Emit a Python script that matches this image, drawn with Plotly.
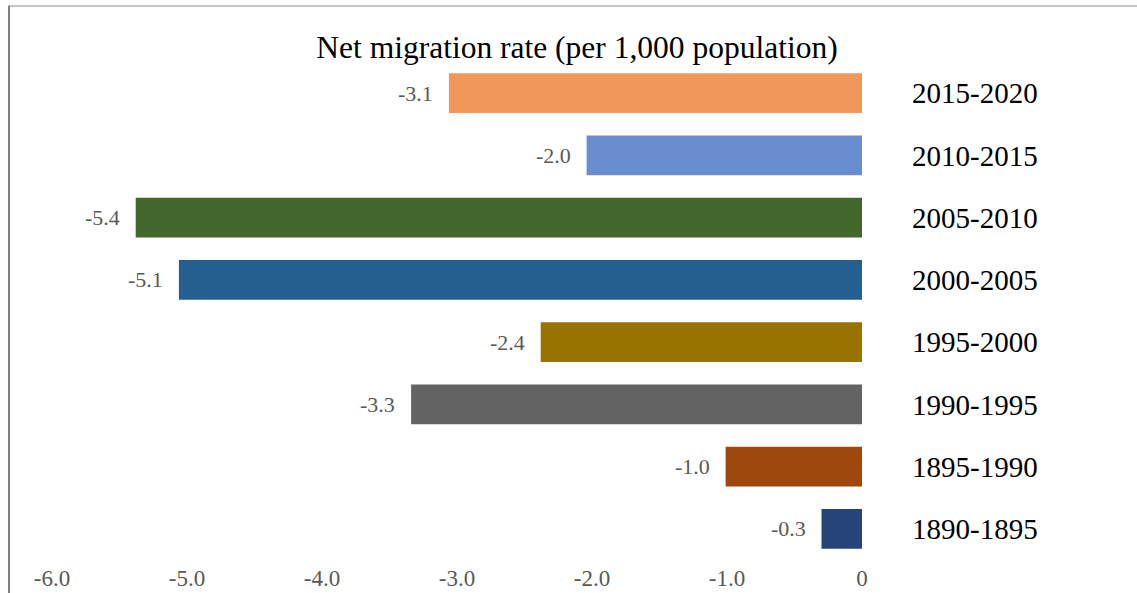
import plotly.graph_objects as go

periods = ["2015-2020", "2010-2015", "2005-2010", "2000-2005",
           "1995-2000", "1990-1995", "1895-1990", "1890-1895"]
rates = [-3.06, -2.04, -5.38, -5.06, -2.38, -3.34, -1.01, -0.30]
colors = ["#F0975A", "#698ECF", "#43682B", "#255E91",
          "#997300", "#636363", "#9E480E", "#264478"]
x_ticks = [-6, -5, -4, -3, -2, -1, 0]
x_tick_text = ["-6.0", "-5.0", "-4.0", "-3.0", "-2.0", "-1.0", "0"]

SERIF = "Liberation Serif"

fig = go.Figure()
fig.add_trace(go.Bar(
    x=rates, y=periods, orientation="h",
    marker=dict(color=colors, line=dict(width=0)),
    width=0.64, showlegend=False, hoverinfo="x+y",
))

for v, p in zip(rates, periods):
    fig.add_annotation(
        x=v, y=p, xref="x", yref="y", text=f"{v:.1f}",
        showarrow=False, xanchor="right", yanchor="middle", xshift=-14,
        font=dict(family=SERIF, size=22, color="#595959"),
    )

# frame lines (left and top) in paper coords
L, R, T, B = 52, 275, 62, 33
W, H = 1137, 593
pw, ph = W - L - R, H - T - B
def px(xpix):
    return (xpix - L) / pw
def py(ypix):
    return (H - B - ypix) / ph
fig.add_shape(type="line", xref="paper", yref="paper",
              x0=px(9), x1=px(9), y0=py(6), y1=py(593),
              line=dict(color="#7F7F7F", width=2))
fig.add_shape(type="line", xref="paper", yref="paper",
              x0=px(8), x1=px(1137), y0=py(6), y1=py(6),
              line=dict(color="#8C8C8C", width=1))

fig.update_layout(
    width=W, height=H,
    margin=dict(l=L, r=R, t=T, b=B, pad=0, autoexpand=False),
    paper_bgcolor="white", plot_bgcolor="white",
    title=dict(text="Net migration rate (per 1,000 population)",
               x=577 / W, xanchor="center", xref="container",
               y=1 - 47 / H, yanchor="middle", yref="container",
               font=dict(family=SERIF, size=31.5, color="black")),
    xaxis=dict(range=[-6, 0], tickvals=x_ticks, ticktext=x_tick_text,
               showgrid=False, zeroline=False, showline=False,
               tickfont=dict(family=SERIF, size=23, color="#595959"),
               ticks="", ticklabelstandoff=2, fixedrange=True,
               automargin=False),
    yaxis=dict(side="right", autorange="reversed", type="category",
               categoryorder="array", categoryarray=periods,
               showgrid=False, zeroline=False, showline=False, ticks="",
               tickfont=dict(family=SERIF, size=29, color="black"),
               ticklabelstandoff=49, fixedrange=True, automargin=False),
    bargap=0.36,
)

fig.write_html("out.html")
